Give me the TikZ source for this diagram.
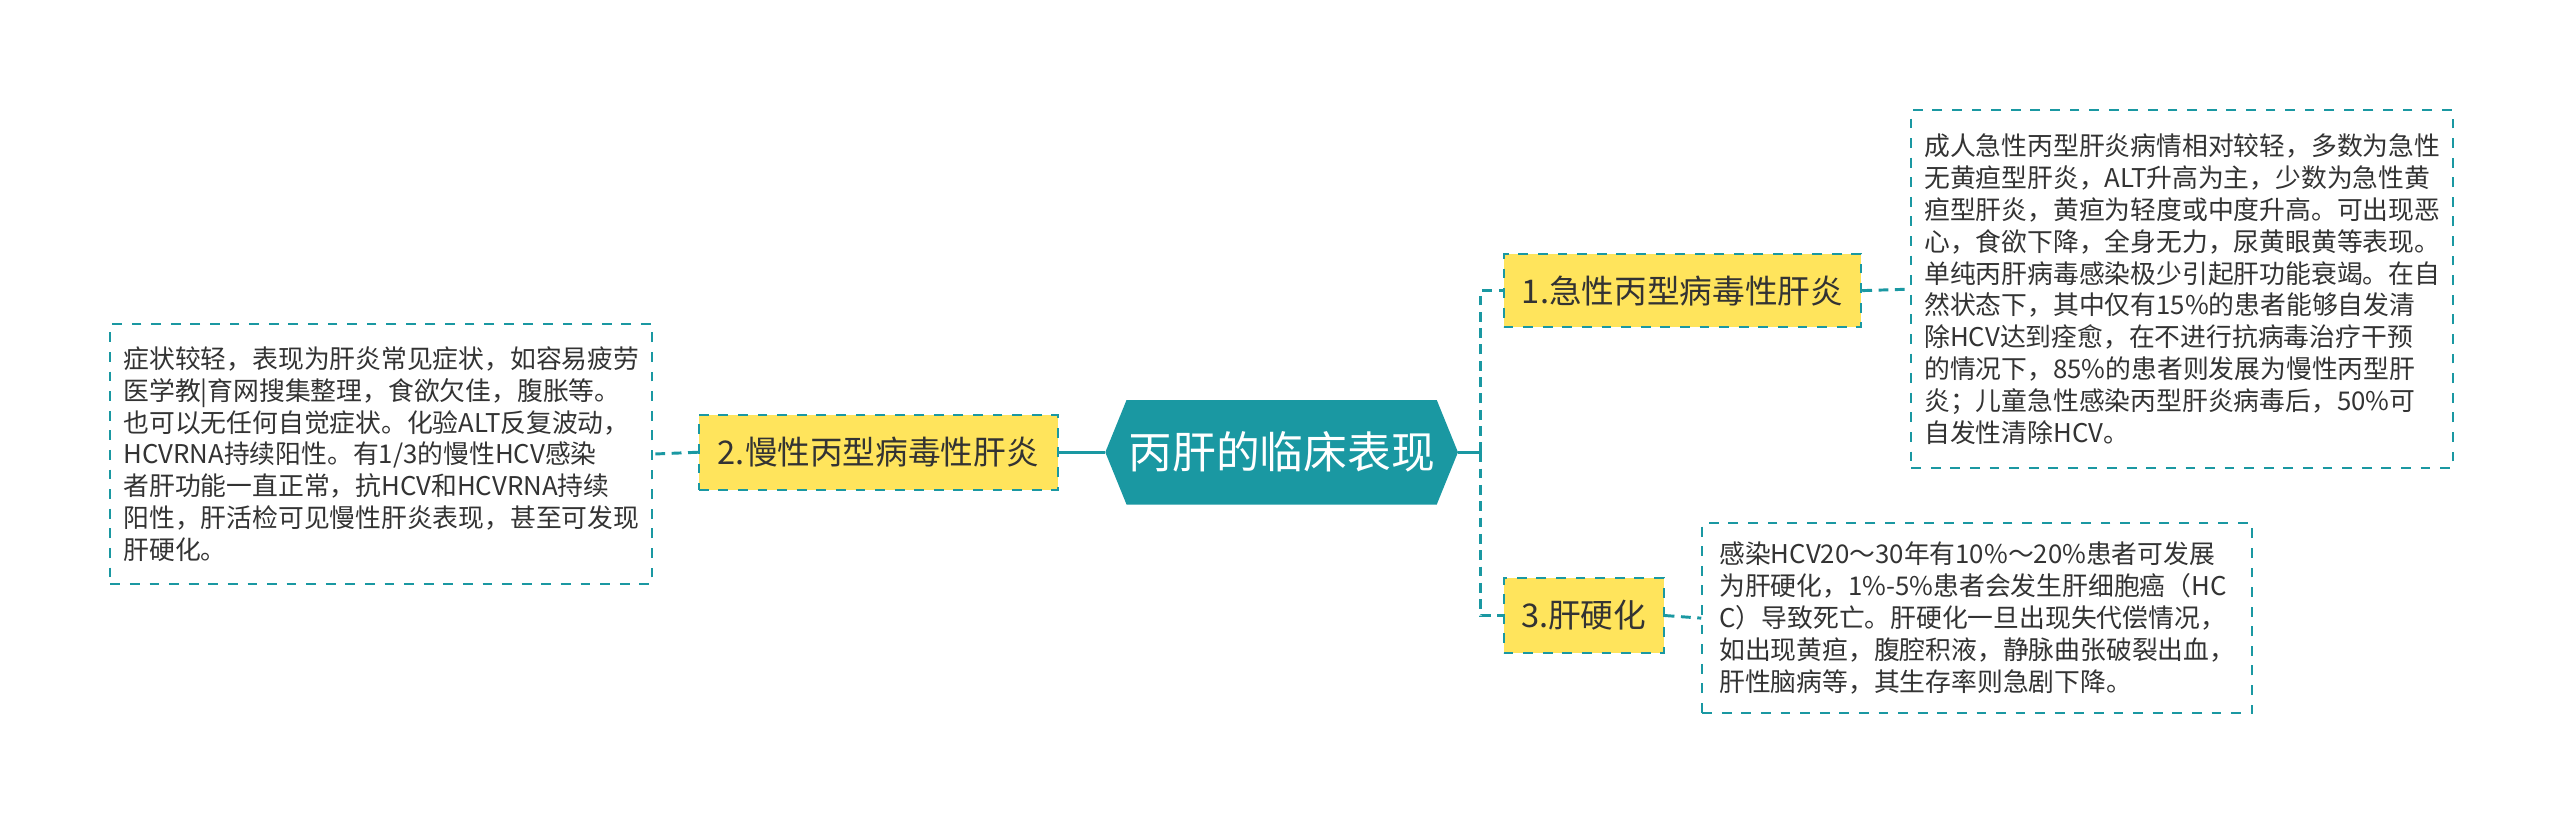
\documentclass[tikz,border=0pt]{standalone}
\usepackage{fontspec}
\setmainfont{Noto Sans CJK SC}
\definecolor{teal1}{HTML}{1A98A2}
\definecolor{yel}{HTML}{FFE45C}
\definecolor{txt}{HTML}{333333}
\tikzset{
  lbl/.style={fill=yel,draw=teal1,dashed,line width=0.6pt,inner sep=0pt,text=txt,font=\fontsize{10}{12}\selectfont},
  txtbox/.style={draw=teal1,dashed,line width=0.6pt,inner xsep=4pt,inner ysep=0pt,text=txt,align=left,font=\fontsize{7.9}{9.75}\selectfont,anchor=north west},
  con/.style={draw=teal1,line width=0.9pt},
  dcon/.style={draw=teal1,line width=0.9pt,dash pattern=on 3pt off 2pt}
}
\begin{document}
\begin{tikzpicture}[x=0.5pt,y=-0.5pt]
\useasboundingbox (0,0) rectangle (1568,504);
\fill[white] (0,0) rectangle (1568,504);
% center
\fill[teal1] (677,277)--(690,245)--(880,245)--(893,277)--(880,309)--(690,309)--cycle;
\node[text=white,font=\fontsize{13.4}{16}\selectfont] (c) at (785,277) {丙肝的临床表现};
\coordinate (cr) at (893,277);
\coordinate (cl) at (677,277);
\coordinate (tr) at (907,277);
% labels
\node[lbl,minimum width=110pt,minimum height=23pt] (n2) at (538,277) {2.慢性丙型病毒性肝炎};
\node[lbl,minimum width=109.5pt,minimum height=22.5pt] (n1) at (1030.5,178) {1.急性丙型病毒性肝炎};
\node[lbl,minimum width=49pt,minimum height=23pt] (n3) at (970,377) {3.肝硬化};
% text boxes
\node[txtbox,minimum width=165.5pt,minimum height=79.5pt] (t2) at (67,198) {症状较轻，表现为肝炎常见症状，如容易疲劳\\医学教|育网搜集整理，食欲欠佳，腹胀等。\\也可以无任何自觉症状。化验ALT反复波动，\\HCVRNA持续阳性。有1/3的慢性HCV感染\\者肝功能一直正常，抗HCV和HCVRNA持续\\阳性，肝活检可见慢性肝炎表现，甚至可发现\\肝硬化。};
\node[txtbox,minimum width=164pt,minimum height=109.5pt] (t1) at (1170,67) {成人急性丙型肝炎病情相对较轻，多数为急性\\无黄疸型肝炎，ALT升高为主，少数为急性黄\\疸型肝炎，黄疸为轻度或中度升高。可出现恶\\心，食欲下降，全身无力，尿黄眼黄等表现。\\单纯丙肝病毒感染极少引起肝功能衰竭。在自\\然状态下，其中仅有15\%的患者能够自发清\\除HCV达到痊愈，在不进行抗病毒治疗干预\\的情况下，85\%的患者则发展为慢性丙型肝\\炎；儿童急性感染丙型肝炎病毒后，50\%可\\自发性清除HCV。};
\node[txtbox,minimum width=168.5pt,minimum height=58pt] (t3) at (1042,320) {感染HCV20～30年有10\%～20\%患者可发展\\为肝硬化，1\%-5\%患者会发生肝细胞癌（HC\\C）导致死亡。肝硬化一旦出现失代偿情况，\\如出现黄疸，腹腔积液，静脉曲张破裂出血，\\肝性脑病等，其生存率则急剧下降。};
% connectors
\draw[con] (cl) -- (n2.east);
\draw[con] (cr) -- (tr);
\draw[dcon] (tr) |- (n1.west);
\draw[dcon] (tr) |- (n3.west);
\draw[dcon] (n2.west) -- (t2.east);
\draw[dcon] (n1.east) -- (t1.west);
\draw[dcon] (n3.east) -- (t3.west);
\end{tikzpicture}
\end{document}
